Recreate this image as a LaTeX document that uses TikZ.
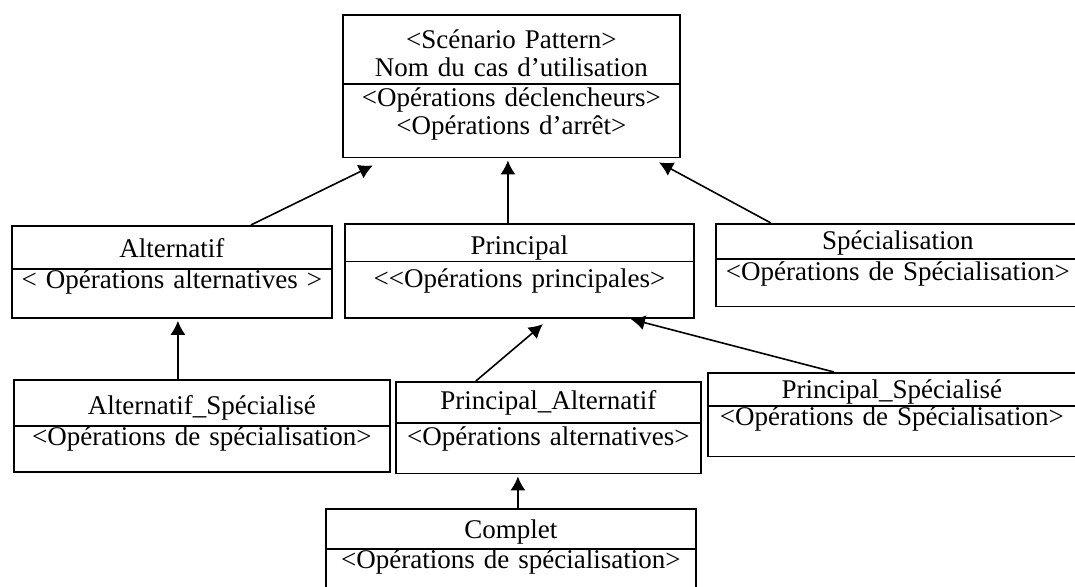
\documentclass[tikz,border=0pt]{standalone}
\usepackage{fontspec}
\setmainfont{Liberation Serif}
\usetikzlibrary{shapes.multipart,arrows.meta}
\newcommand{\hd}[2]{\rule[-#2pt]{0pt}{\dimexpr #1pt + #2pt\relax}}
\tikzset{
	every node/.style = {font=\fontsize{13.5}{14}\selectfont, inner sep = 0},
	>={Latex[length=7pt,width=7.5pt]},
	classbox/.style={draw, line width=0.9pt, rectangle split, rectangle split parts=2, align=center, anchor=north west},
	every edge/.append style={->, line width=0.8pt}
}
\begin{document}
\begin{tikzpicture}[x=0.5pt, y=-0.5pt]
		\path[use as bounding box, clip] (0,0) rectangle (1075,587);
		\node(scenario)[classbox, text width=168.5pt] at (342,14) {\hd{16.5}{0}<Scénario Pattern>\\ Nom du cas d’utilisation\hd{0}{3} \nodepart{two} \hd{11}{0}<Opérations déclencheurs>\\ <Opérations d’arrêt>\hd{0}{11}};
		\node(alt)[classbox, text width=160pt] at (11,225) {\hd{15.5}{5}Alternatif \nodepart{two} \hd{8.5}{14.3}< Opérations alternatives >};
		\node(principal)[classbox, text width=174.5pt] at (344,223) {\hd{15}{1.2}Principal \nodepart{two} \hd{12.5}{15}<\kern0pt<Opérations principales>};
		\node(spec)[classbox, text width=182pt] at (715,223) {\hd{12.5}{4}Spécialisation \nodepart{two} \hd{10.5}{12.5}<Opérations de Spécialisation>};
		\node(altspec)[classbox, text width=188pt] at (13,379) {\hd{17}{5}Alternatif\_Spécialisé \nodepart{two} \hd{9}{13}<Opérations de spécialisation>};
		\node(princalt)[classbox, text width=152.5pt] at (395,381) {\hd{13.5}{6}Principal\_Alternatif \nodepart{two} \hd{11}{13.5}<Opérations alternatives>};
		\node(princspec)[classbox, text width=184pt] at (707,372) {\hd{12.5}{3}Principal\_Spécialisé \nodepart{two} \hd{9.5}{15}<Opérations de Spécialisation>};
		\node(complet)[classbox, text width=185pt] at (325,508) {\hd{14.5}{4.5}Complet \nodepart{two} \hd{9.5}{13.5}<Opérations de spécialisation>};

		\path ([shift={(79,0)}]alt.north) edge ([shift={(-138.5,7)}]scenario.south);
		\path ([shift={(-11.5,0)}]principal.north) edge ([shift={(-3.5,2)}]scenario.south);
		\path ([shift={(-127,0)}]spec.north) edge ([shift={(147.5,4)}]scenario.south);
		\path ([shift={(-24,0)}]altspec.north) edge ([shift={(6,2)}]alt.south);
		\path ([shift={(-72.5,0)}]princalt.north) edge ([shift={(23.5,5)}]principal.south);
		\path ([shift={(-58,0)}]princspec.north) edge ([shift={(111.5,0)}]principal.south);
		\path ([shift={(7,0)}]complet.north) edge ([shift={(-30.5,2)}]princalt.south);
		\end{tikzpicture}
\end{document}
